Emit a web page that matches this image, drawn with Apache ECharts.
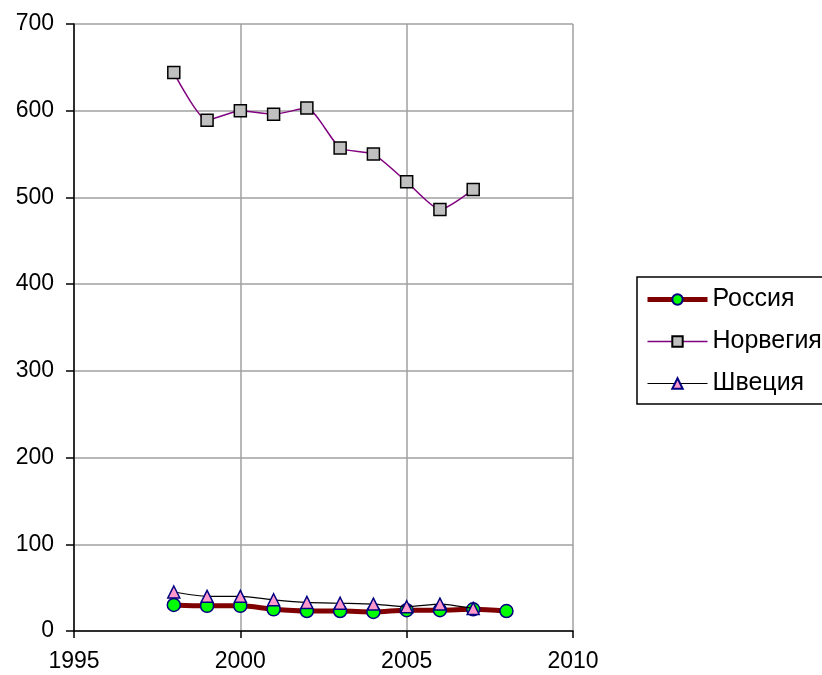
<!DOCTYPE html>
<html><head><meta charset="utf-8">
<script src="https://cdn.jsdelivr.net/npm/echarts@6/dist/echarts.min.js"></script>
<style>html,body{margin:0;padding:0;background:#fff}#c{width:822px;height:675px}</style>
</head><body><div id="c"></div>
<script>
const years = [1998,1999,2000,2001,2002,2003,2004,2005,2006,2007,2008];
const russia = [30,29,29,25,23,23,22,24,24,25,23];
const norway = [644,589,600,596,603,557,550,518,486,509];
const sweden = [45,40,40,36,33,32,31,28,31,26];
const names = ['Россия','Норвегия','Швеция'];

const pairs = (vals) => vals.map((v,i)=>[years[i], v]);
const font = '"Liberation Sans", Arial, sans-serif';

const chart = echarts.init(document.getElementById('c'), null, {renderer:'canvas'});
chart.setOption({
  animation:false,
  backgroundColor:'#fff',
  grid:{left:74, top:24, right:249, bottom:44, containLabel:false},
  xAxis:{type:'value', min:1995, max:2010, interval:5,
    axisLine:{show:true, lineStyle:{color:'#000', width:1.5}},
    axisTick:{show:true, length:7, lineStyle:{color:'#000', width:1.5}},
    axisLabel:{color:'#000', fontSize:23, fontFamily:font, margin:19, formatter:(v)=>String(v)},
    splitLine:{show:true, lineStyle:{color:'#a0a0a0', width:1.5}}},
  yAxis:{type:'value', min:0, max:700, interval:100,
    axisLine:{show:true, lineStyle:{color:'#000', width:1.5}},
    axisTick:{show:true, length:8, lineStyle:{color:'#000', width:1.5}},
    axisLabel:{color:'#000', fontSize:23, fontFamily:font, margin:20},
    splitLine:{show:true, lineStyle:{color:'#a0a0a0', width:1.5}}},
  legend:{orient:'vertical', left:637, top:277, itemWidth:60, itemHeight:13, itemGap:17,
    padding:[10,8,8,8], borderColor:'#000', borderWidth:1.5, borderRadius:0,
    textStyle:{color:'#000', fontSize:25, fontFamily:font},
    data:[
      {name:names[0], lineStyle:{width:5}},
      {name:names[1], lineStyle:{width:1.5}},
      {name:names[2], lineStyle:{width:1.2}}
    ]},
  series:[
    {name:names[0], type:'line', data:pairs(russia), smooth:0.3, z:2,
     lineStyle:{color:'#800000', width:5}, itemStyle:{color:'#00ff00', borderColor:'#000080', borderWidth:1.5},
     symbol:'circle', symbolSize:13},
    {name:names[1], type:'line', data:pairs(norway), smooth:0.2, z:3,
     lineStyle:{color:'#800080', width:1.5}, itemStyle:{color:'#c0c0c0', borderColor:'#000', borderWidth:1.5},
     symbol:'rect', symbolSize:12},
    {name:names[2], type:'line', data:pairs(sweden), smooth:0.2, z:4,
     lineStyle:{color:'#000', width:1.2}, itemStyle:{color:'#ff99cc', borderColor:'#000080', borderWidth:1.5},
     symbol:'triangle', symbolSize:12}
  ]
});
</script></body></html>
